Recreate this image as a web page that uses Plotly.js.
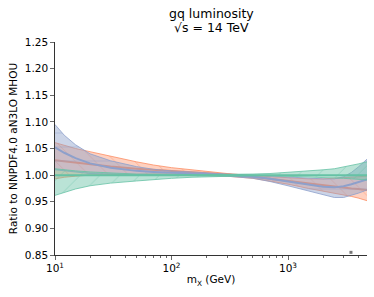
<!DOCTYPE html>
<html><head><meta charset="utf-8">
<script src="https://cdn.plot.ly/plotly-3.0.1.min.js"></script>
<style>html,body{margin:0;padding:0;background:#fff}#plot{width:374px;height:297px}</style>
</head><body><div id="plot"></div>
<script>
const mass = [10, 12, 15, 20, 30, 50, 70, 100, 150, 200, 300, 500, 700, 1000, 1500, 2000, 2500, 3000, 3500, 4000, 4764];

const blueCentral = [1.052,1.042,1.032,1.022,1.014,1.008,1.006,1.004,1.003,1.002,1.000,0.997,0.993,0.988,0.982,0.978,0.977,0.979,0.983,0.987,0.992];
const blueUpper   = [1.095,1.075,1.057,1.040,1.027,1.016,1.011,1.008,1.006,1.004,1.002,1.000,0.998,0.996,0.994,0.993,0.993,0.997,1.005,1.015,1.030];
const blueLower   = [1.010,1.008,1.005,1.003,1.002,1.001,1.001,1.000,0.999,0.999,0.998,0.994,0.988,0.980,0.970,0.963,0.958,0.958,0.962,0.966,0.972];

const orangeCentral = [1.028,1.026,1.023,1.020,1.016,1.012,1.010,1.008,1.006,1.004,1.001,0.997,0.993,0.989,0.984,0.981,0.979,0.977,0.975,0.974,0.972];
const orangeUpper   = [1.061,1.056,1.050,1.044,1.035,1.025,1.019,1.014,1.010,1.007,1.003,0.999,0.997,0.995,0.993,0.993,0.994,0.995,0.996,0.997,0.998];
const orangeLower   = [0.993,0.996,0.998,1.000,1.001,1.002,1.002,1.002,1.001,1.000,0.998,0.994,0.989,0.983,0.975,0.970,0.967,0.963,0.960,0.957,0.952];

const greenCentral = [1,1,1,1,1,1,1,1,1,1,1,1,1,1,1,1,1,1,1,1,1];
const greenUpper   = [1.012,1.010,1.008,1.006,1.004,1.002,1.002,1.001,1.001,1.001,1.001,1.002,1.003,1.005,1.008,1.010,1.012,1.015,1.018,1.021,1.025];
const greenLower   = [0.962,0.968,0.974,0.980,0.985,0.989,0.992,0.994,0.996,0.997,0.998,0.999,0.999,0.998,0.997,0.996,0.995,0.994,0.993,0.992,0.991];

const markX = [3470];
const markY = [0.855];

const yTicks = [0.85,0.90,0.95,1.00,1.05,1.10,1.15,1.20,1.25];
const xTicks = [10, 100, 1000];
const xTickText = ['10<sup>1</sup>','10<sup>2</sup>','10<sup>3</sup>'];
const titleLines = ['gq luminosity', '√s = 14 TeV'];

function band(lower, upper, central, color, rgba, shape) {
  return [
    {x: mass, y: lower, type:'scatter', mode:'lines', line:{color:color, width:0.8}, hoverinfo:'skip', showlegend:false},
    {x: mass, y: upper, type:'scatter', mode:'lines', line:{color:color, width:0.8}, fill:'tonexty', fillcolor:rgba,
     fillpattern:{shape:shape, size:14, solidity:0.06, fgcolor:color, fillmode:'overlay'}, hoverinfo:'skip', showlegend:false},
    {x: mass, y: central, type:'scatter', mode:'lines', line:{color:color, width:2}, showlegend:false}
  ];
}

const minorVals = [];
for (let d of [10,100,1000]) for (let k=2;k<=9;k++) if (d*k<4764) minorVals.push(d*k);

const data = [
  ...band(orangeLower, orangeUpper, orangeCentral, '#fc8d62', 'rgba(252,141,98,0.4)', '\\'),
  ...band(blueLower, blueUpper, blueCentral, '#8da0cb', 'rgba(141,160,203,0.45)', '-'),
  ...band(greenLower, greenUpper, greenCentral, '#66c2a5', 'rgba(102,194,165,0.45)', '/'),
  {x: markX, y: markY, type:'scatter', mode:'markers', marker:{symbol:'square', size:3, color:'#777'}, showlegend:false}
];

const layout = {
  width:374, height:297,
  margin:{l:55, r:7, t:42, b:42},
  paper_bgcolor:'#fff', plot_bgcolor:'#fff',
  font:{family:'DejaVu Sans', color:'#000', size:10},
  annotations:[
    {text:titleLines[0], xref:'paper', yref:'paper', x:0.5, y:1.136, xanchor:'center', yanchor:'middle', showarrow:false, font:{size:12.5}},
    {text:titleLines[1], xref:'paper', yref:'paper', x:0.5, y:1.07, xanchor:'center', yanchor:'middle', showarrow:false, font:{size:12.5}}
  ],
  xaxis:{type:'log', range:[1, Math.log10(4764)], tickvals:xTicks, ticktext:xTickText, ticks:'outside', ticklen:4, tickwidth:0.8,
    showline:true, linecolor:'#000', linewidth:0.8, showgrid:false, zeroline:false, mirror:false,
    tickfont:{size:10.5},
    minor:{tickvals:minorVals, ticks:'outside', ticklen:2, tickwidth:0.6, tickcolor:'#000', showgrid:false},
    title:{text:'m<sub>X</sub> (GeV)', font:{size:10.5}, standoff:2}},
  yaxis:{range:[0.85,1.25], tickvals:yTicks, ticktext:yTicks.map(v=>v.toFixed(2)), ticks:'outside', ticklen:4, tickwidth:0.8,
    showline:true, linecolor:'#000', linewidth:0.8, showgrid:false, zeroline:false, tickfont:{size:10.5},
    title:{text:'Ratio to NNPDF4.0 aN3LO MHOU', font:{size:10.5}, standoff:4}}
};

Plotly.newPlot('plot', data, layout, {staticPlot:true, displayModeBar:false});
</script></body></html>
